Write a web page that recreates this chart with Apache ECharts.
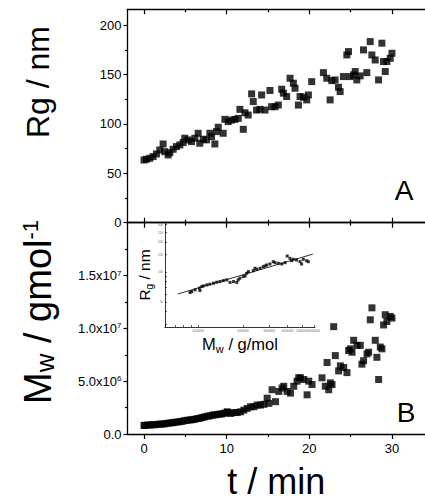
<!DOCTYPE html>
<html><head><meta charset="utf-8">
<script src="https://cdn.jsdelivr.net/npm/echarts@6/dist/echarts.min.js"></script>
<style>html,body{margin:0;padding:0;background:#fff}#c{width:425px;height:500px}</style>
</head><body><div id="c"></div>
<script>
// Panel A: Rg (nm) vs time (min)
const timeA = [0.0,0.29,0.69,1.10,1.50,1.90,2.31,2.51,2.92,3.12,
  3.52,3.92,4.33,4.73,4.93,5.34,5.74,6.15,6.55,6.75,
  7.16,7.56,7.97,8.17,8.57,8.77,8.98,9.58,9.78,10.19,
  10.59,11.0,11.40,11.60,12.01,12.21,12.61,13.02,13.22,13.62,
  14.03,14.23,14.64,15.24,15.44,15.85,16.25,16.66,16.86,17.26,
  17.67,18.07,18.27,18.68,18.88,19.28,19.69,19.89,20.29,21.71,
  22.11,22.52,22.72,23.12,23.53,23.73,24.13,24.54,24.74,24.94,
  25.35,25.55,25.75,26.15,26.56,26.96,27.37,27.57,27.97,28.38,
  28.78,28.98,29.19,29.39,29.79,30.0];
const rgA = [63.5,64.2,65.2,66.9,69.6,73.6,79.7,71.9,68.6,70.9,
  74.3,77.0,78.7,81.1,85.5,83.8,82.1,85.5,90.5,80.4,
  84.5,83.8,90.5,87.1,79.7,92.2,96.6,90.5,104.6,102.3,
  103.9,104.6,105.6,114.7,94.5,111.3,109.0,130.4,122.6,114.0,
  114.7,129.3,114.0,133.8,117.4,117.4,119.1,135.1,131.1,127.7,
  146.2,141.2,136.1,119.1,127.7,127.0,124.3,129.3,142.8,151.9,
  146.2,124.3,143.8,144.5,137.1,132.7,147.9,169.8,173.2,147.9,
  149.6,153.0,144.5,148.6,174.9,151.9,183.3,169.8,164.7,144.5,
  181.7,163.1,153.0,163.1,166.4,171.5];

// Panel B: Mw (g/mol) vs time (min)
const timeB = [0.0,0.08,0.41,0.73,1.01,1.29,1.61,1.94,2.22,2.50,
  2.82,3.14,3.43,3.71,4.03,4.35,4.63,4.92,5.24,5.56,
  5.84,6.12,6.45,6.77,7.05,7.33,7.65,7.97,8.26,8.54,
  8.86,9.18,9.47,9.75,10.07,10.07,10.47,10.87,11.28,11.68,
  12.08,12.48,12.89,13.29,13.69,14.09,14.50,14.90,15.10,15.50,
  15.91,16.31,16.71,16.91,17.32,17.72,18.12,18.52,18.72,18.93,
  19.33,19.73,19.93,20.33,21.54,21.94,22.15,22.35,22.55,22.75,
  22.95,23.15,23.55,23.76,24.16,24.56,24.76,24.96,25.17,25.37,
  25.77,26.17,26.37,26.57,26.98,27.18,27.38,27.58,27.98,28.18,
  28.39,28.59,28.79,28.99,29.19,29.39,29.79,30.00];
const mwB = [0.81e6,0.81e6,0.85e6,0.85e6,0.88e6,0.88e6,0.91e6,0.94e6,0.94e6,0.97e6,
  1.01e6,1.04e6,1.07e6,1.10e6,1.14e6,1.17e6,1.20e6,1.27e6,1.30e6,1.33e6,
  1.36e6,1.39e6,1.46e6,1.49e6,1.56e6,1.62e6,1.68e6,1.72e6,1.78e6,1.81e6,
  1.85e6,1.88e6,1.91e6,1.97e6,2.04e6,2.10e6,1.94e6,2.03e6,2.03e6,2.10e6,
  2.26e6,2.42e6,2.58e6,2.58e6,2.74e6,2.74e6,2.81e6,3.39e6,2.90e6,4.19e6,
  3.06e6,4.03e6,4.35e6,4.52e6,4.03e6,3.87e6,4.52e6,5.00e6,5.32e6,5.32e6,
  5.16e6,3.71e6,5.00e6,4.68e6,5.32e6,4.52e6,6.77e6,4.19e6,4.84e6,4.68e6,
  10.16e6,7.42e6,5.97e6,6.45e6,6.29e6,5.81e6,7.90e6,8.06e6,7.74e6,8.87e6,
  8.39e6,8.39e6,6.61e6,6.94e6,7.58e6,7.74e6,10.81e6,11.94e6,8.87e6,7.26e6,
  5.16e6,8.23e6,8.06e6,10.32e6,11.29e6,10.65e6,11.13e6,10.97e6];

// Inset: Rg vs Mw (log-log) with fit line
const insetMw = [8.84e5,9.07e5,9.55e5,1.02e6,1.03e6,1.06e6,1.085e6,1.144e6,1.20e6,1.27e6,
  1.335e6,1.405e6,1.48e6,1.56e6,1.64e6,1.73e6,1.82e6,1.86e6,1.91e6,2.01e6,
  2.07e6,2.12e6,2.18e6,2.35e6,2.41e6,2.48e6,2.61e6,2.74e6,2.82e6,2.89e6,
  3.04e6,3.20e6,3.29e6,3.46e6,3.65e6,3.84e6,3.97e6,4.14e6,4.25e6,4.36e6,
  4.59e6,4.84e6,4.96e6,5.09e6,5.36e6,5.50e6];
const insetRg = [62.1,63.5,66.1,68.7,65.0,71.3,72.4,74.1,75.3,77.1,
  78.9,80.0,81.9,83.2,78.5,80.0,78.5,83.2,86.5,89.7,
  91.2,97.0,100.7,103,108.9,106.4,108.9,113,114.8,117.5,
  120.2,126.8,123.9,122,120.2,123.9,144.5,137,129.7,134,
  131.8,126.8,120.2,134,129.7,126.8];
const fitMw = [7.3e5, 5.9e6];
const fitRg = [60, 151];

// Ticks / labels
const xMajor = [0,10,20,30];
const xMinor = [5,15,25];
const rgMajor = [0,50,100,150,200];
const rgMinor = [25,75,125,175];
const mwMajor = [0,5e6,1e7,1.5e7];
const mwMinor = [2.5e6,7.5e6,1.25e7,1.75e7];
const mwLabels = ['0.0','5.0x10{sup|6}','1.0x10{sup|7}','1.5x10{sup|7}'];
const insetXTicks = [6e5,7e5,8e5,9e5,1e6,2e6,3e6,4e6,5e6,6e6];
const insetXLabels = [1e6,2e6,3e6,4e6,5e6,6e6];
const insetYTicks = [30,40,50,60,70,80,90,100,150,200,250,300];
const insetYLabels = [50,100,150,200,250,300];

const FONT = '"Liberation Sans", Arial, Helvetica, sans-serif';
const LINE = {show:true, onZero:false, lineStyle:{color:'#000', width:1.3}};
const NOLINE = {show:false, onZero:false};
const TICKSTYLE = {color:'#000', width:1.2};

function xAx(grid, position, ticks, len, inside, line, extra) {
  return Object.assign({
    type:'value', gridIndex:grid, position:position, min:-2, max:34,
    axisLine: line ? LINE : NOLINE,
    axisTick:{show:true, inside:inside, length:len, customValues:ticks, lineStyle:TICKSTYLE},
    axisLabel:{show:false},
    splitLine:{show:false}
  }, extra || {});
}
function yAx(grid, min, max, ticks, len, line, extra) {
  return Object.assign({
    type:'value', gridIndex:grid, position:'left', min:min, max:max,
    axisLine: line ? LINE : NOLINE,
    axisTick:{show:true, inside:false, length:len, customValues:ticks, lineStyle:TICKSTYLE},
    axisLabel:{show:false},
    splitLine:{show:false}
  }, extra || {});
}

const chart = echarts.init(document.getElementById('c'), null, {renderer:'svg', width:425, height:500});

const option = {
  animation:false,
  backgroundColor:'#fff',
  textStyle:{fontFamily:FONT},
  grid:[
    {left:127.5, top:9.3, width:297.5, height:213.4},
    {left:127.5, top:222.7, width:297.5, height:213},
    {left:165, top:223, width:150, height:104}
  ],
  xAxis:[
    xAx(0,'bottom',xMajor,5,true,true),
    xAx(0,'bottom',xMinor,3,true,false),
    xAx(0,'top',xMajor,5,true,true),
    xAx(0,'top',xMinor,3,true,false),
    xAx(1,'top',xMajor,5,true,true),
    xAx(1,'top',xMinor,3,true,false),
    xAx(1,'bottom',xMajor,5,false,true,{
      axisLabel:{show:true, customValues:xMajor, fontSize:13, color:'#000', margin:8, fontFamily:FONT},
      name:'t / min', nameLocation:'middle', nameGap:29,
      nameTextStyle:{fontSize:36, color:'#000', fontFamily:FONT}
    }),
    xAx(1,'bottom',xMinor,3,false,false),
    {
      type:'log', logBase:10, gridIndex:2, position:'bottom', min:6e5, max:6.1e6,
      axisLine:{show:true, onZero:false, lineStyle:{color:'#000', width:0.8}},
      axisTick:{show:true, inside:true, length:2, customValues:insetXTicks, lineStyle:{color:'#000', width:0.6}},
      axisLabel:{show:true, customValues:insetXLabels, fontSize:3, color:'#666', margin:2,
        formatter:function(v){return String(Math.round(v));}},
      splitLine:{show:false},
      name:'{b|M}{sub|w}{b| / g/mol}', nameLocation:'middle', nameGap:8,
      nameTextStyle:{color:'#000', fontFamily:FONT, rich:{
        b:{fontSize:16.5, lineHeight:16, verticalAlign:'top', fontFamily:FONT, color:'#000'},
        sub:{fontSize:11, lineHeight:11, verticalAlign:'top', padding:[8,0,0,0], fontFamily:FONT, color:'#000'}
      }}
    }
  ],
  yAxis:[
    yAx(0,0,216,rgMajor,4,true,{
      axisLabel:{show:true, customValues:rgMajor, fontSize:13, color:'#000', margin:6, fontFamily:FONT}
    }),
    yAx(0,0,216,rgMinor,2.5,false),
    yAx(1,0,2e7,mwMajor,4,true,{
      axisLabel:{show:true, customValues:mwMajor, fontSize:13, color:'#000', margin:6, fontFamily:FONT,
        formatter:function(v){const i = mwMajor.indexOf(v); return i>=0 ? mwLabels[i] : '';},
        rich:{sup:{fontSize:8, verticalAlign:'top', lineHeight:9, fontFamily:FONT, color:'#000'}}
      }
    }),
    yAx(1,0,2e7,mwMinor,2.5,false),
    {
      type:'log', logBase:10, gridIndex:2, position:'left', min:28, max:310,
      axisLine:{show:true, onZero:false, lineStyle:{color:'#000', width:0.8}},
      axisTick:{show:true, inside:true, length:2, customValues:insetYTicks, lineStyle:{color:'#000', width:0.6}},
      axisLabel:{show:true, customValues:insetYLabels, fontSize:3, color:'#666', margin:2},
      splitLine:{show:false},
      name:'{b|R}{sub|g}{b| / nm}', nameLocation:'middle', nameRotate:90, nameGap:14,
      nameTextStyle:{color:'#000', fontFamily:FONT, rich:{
        b:{fontSize:15.5, lineHeight:15, verticalAlign:'top', fontFamily:FONT, color:'#000'},
        sub:{fontSize:10, lineHeight:10, verticalAlign:'top', padding:[8,0,0,0], fontFamily:FONT, color:'#000'}
      }}
    }
  ],
  series:[
    {type:'scatter', xAxisIndex:0, yAxisIndex:0, symbol:'rect', symbolSize:7,
     itemStyle:{color:'#000'}, silent:true,
     data: timeA.map(function(t,i){return [t, rgA[i]];})},
    {type:'scatter', xAxisIndex:6, yAxisIndex:2, symbol:'rect', symbolSize:7,
     itemStyle:{color:'#000'}, silent:true,
     data: timeB.map(function(t,i){return [t, mwB[i]];})},
    {type:'scatter', xAxisIndex:8, yAxisIndex:4, symbol:'rect', symbolSize:3,
     itemStyle:{color:'#000'}, silent:true,
     data: insetMw.map(function(m,i){return [m, insetRg[i]];})},
    {type:'line', xAxisIndex:8, yAxisIndex:4, symbol:'none', silent:true,
     lineStyle:{color:'#000', width:0.8},
     data: fitMw.map(function(m,i){return [m, fitRg[i]];})}
  ],
  graphic:[
    {type:'text', x:404, y:190, silent:true,
     style:{text:'A', font:'28px ' + FONT, fill:'#000', align:'center', verticalAlign:'middle'}},
    {type:'text', x:406, y:412, silent:true,
     style:{text:'B', font:'28px ' + FONT, fill:'#000', align:'center', verticalAlign:'middle'}},
    {type:'text', x:38, y:82, rotation:Math.PI/2, silent:true,
     style:{text:'Rg / nm', font:'32px ' + FONT, fill:'#000', align:'center', verticalAlign:'middle'}},
    {type:'text', x:38, y:312, rotation:Math.PI/2, silent:true,
     style:{text:'{b|M}{sub|w}{b| / gmol}{sup|-1}', fill:'#000', align:'center', verticalAlign:'middle',
       rich:{
         b:{fontSize:38, lineHeight:38, verticalAlign:'top', fontFamily:FONT, fill:'#000'},
         sub:{fontSize:26, lineHeight:26, verticalAlign:'top', padding:[13,0,0,0], fontFamily:FONT, fill:'#000'},
         sup:{fontSize:22, lineHeight:22, verticalAlign:'top', padding:[0,0,0,0], fontFamily:FONT, fill:'#000'}
       }}}
  ]
};
chart.setOption(option);
</script>
</body></html>
